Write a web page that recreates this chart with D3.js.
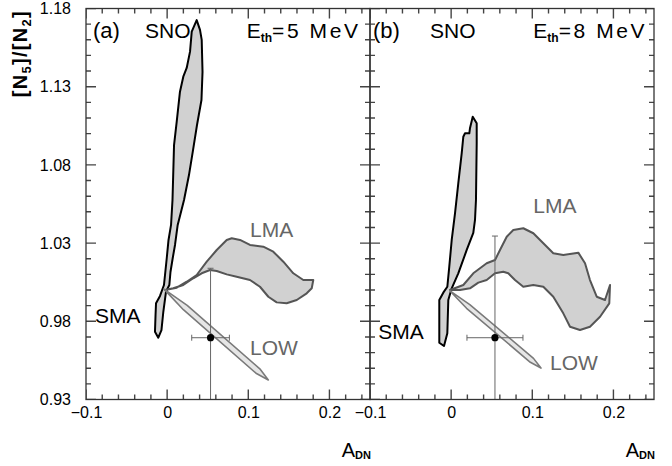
<!DOCTYPE html>
<html><head><meta charset="utf-8">
<script src="https://cdn.jsdelivr.net/npm/d3@7"></script>
<style>
html,body{margin:0;padding:0;background:#fff;}
svg{display:block;font-family:"Liberation Sans",Arial,Helvetica,sans-serif;}
</style></head><body>
<svg id="chart" width="672" height="466"></svg>
<script>
// ---------------- data ----------------
const xDomain = [-0.1, 0.25];
const yDomain = [0.93, 1.18];
const xTickValues = [-0.1, 0, 0.1, 0.2];
const xTickLabels = ["\u22120.1", "0", "0.1", "0.2"];
const yTickValues = [0.93, 0.98, 1.03, 1.08, 1.13, 1.18];
const yTickLabels = ["0.93", "0.98", "1.03", "1.08", "1.13", "1.18"];
const xMinorTicks = [-0.08, -0.06, -0.04, -0.02, 0.02, 0.04, 0.06, 0.08, 0.12, 0.14, 0.16, 0.18, 0.22, 0.24];
const yMinorTicks = [0.94, 0.95, 0.96, 0.97, 0.99, 1.00, 1.01, 1.02, 1.04, 1.05, 1.06, 1.07,
  1.09, 1.10, 1.11, 1.12, 1.14, 1.15, 1.16, 1.17];
const panelNames = ["(a)", "(b)"];
const thresholds = ["5", "8"];

// SMA region, panel (a)
const smaA = [[0.0364,1.1726],[0.0405,1.1663],[0.0426,1.1599],[0.0436,1.1394],[0.0423,1.1215],[0.0368,1.1055],
  [0.0319,1.0895],[0.0269,1.0735],[0.0208,1.0576],[0.0130,1.0416],[0.0097,1.0288],[0.0069,1.0205],[0.0041,1.0115],
  [0.0027,1.0032],[-0.0014,0.9989],[-0.0047,0.9861],[-0.0070,0.9744],[-0.0109,0.9695],[-0.0150,0.9733],
  [-0.0143,0.9840],[-0.0137,0.9915],[-0.0088,0.9962],[-0.0039,1.0032],[-0.0005,1.0203],[0.0017,1.0320],
  [0.0048,1.0416],[0.0066,1.0576],[0.0085,1.0927],[0.0118,1.1076],[0.0158,1.1268],[0.0199,1.1364],
  [0.0241,1.1420],[0.0282,1.1524],[0.0303,1.1652]];
// LMA region, panel (a)
const lmaA = [[-0.0026,1.0000],[0.0118,1.0015],[0.0241,1.0053],[0.0364,1.0096],[0.0488,1.0181],[0.0611,1.0256],
  [0.0734,1.0320],[0.0796,1.0331],[0.0898,1.0320],[0.1021,1.0288],[0.1185,1.0277],[0.1308,1.0245],[0.1432,1.0181],
  [0.1555,1.0107],[0.1678,1.0064],[0.1801,1.0064],[0.1782,1.0011],[0.1720,0.9979],[0.1597,0.9936],[0.1473,0.9915],
  [0.1350,0.9921],[0.1247,0.9957],[0.1144,1.0021],[0.1021,1.0064],[0.0857,1.0085],[0.0734,1.0100],[0.0611,1.0122],
  [0.0528,1.0128],[0.0426,1.0107],[0.0322,1.0075],[0.0199,1.0032],[0.0076,1.0011]];
// LOW region, panel (a)
const lowA = [[-0.0039,1.0006],[0.0247,0.9902],[0.1142,0.9496],[0.1247,0.9425],[0.1095,0.9468],[0.0200,0.9874]];

// SMA region, panel (b)
const smaB = [[0.0266,1.1108],[0.0315,1.1066],[0.0315,1.0938],[0.0306,1.0576],[0.0294,1.0448],[0.0273,1.0365],
  [0.0192,1.0256],[0.0088,1.0107],[0.0007,1.0011],[-0.0035,0.9936],[-0.0047,0.9723],[-0.0088,0.9642],
  [-0.0146,0.9663],[-0.0146,0.9936],[-0.0097,0.9983],[-0.0047,1.0021],[-0.0023,1.0149],[0.0007,1.0320],
  [0.0048,1.0491],[0.0088,1.0682],[0.0130,1.0874],[0.0150,1.0980],[0.0171,1.1002],[0.0224,1.1002],[0.0232,1.1034]];
// LMA region, panel (b)
const lmaB = [[-0.0014,1.0000],[0.0150,1.0032],[0.0273,1.0107],[0.0438,1.0171],[0.0541,1.0192],[0.0602,1.0256],
  [0.0685,1.0341],[0.0766,1.0384],[0.0889,1.0395],[0.1013,1.0363],[0.1136,1.0299],[0.1259,1.0235],[0.1382,1.0224],
  [0.1567,1.0239],[0.1650,1.0171],[0.1711,1.0064],[0.1794,0.9957],[0.1896,0.9936],[0.1958,1.0032],[0.1949,0.9915],
  [0.1835,0.9829],[0.1711,0.9765],[0.1588,0.9744],[0.1465,0.9765],[0.1382,0.9851],[0.1259,0.9957],[0.1136,1.0021],
  [0.1013,1.0032],[0.0889,1.0021],[0.0787,1.0064],[0.0704,1.0107],[0.0643,1.0117],[0.0541,1.0107],[0.0438,1.0064],
  [0.0335,1.0047],[0.0232,1.0011],[0.0109,1.0000]];
// LOW region, panel (b)
const lowB = [[-0.0014,0.9994],[0.0230,0.9907],[0.1015,0.9563],[0.1107,0.9501],[0.0976,0.9538],[0.0190,0.9883]];

// measured point with errors [x, y, xErr, yErr]
const pointA = [0.0535, 0.9695, 0.0232, 0.0444];
const pointB = [0.0540, 0.9695, 0.0345, 0.0650];

// region labels [text, x, y]
const labelsA = [["LMA",0.1021,1.0339],["SMA",-0.0889,0.9789],["LOW",0.1021,0.9585]];
const labelsB = [["LMA",0.1013,1.0492],["SMA",-0.0898,0.9687],["LOW",0.1218,0.9489]];

// ---------------- drawing ----------------
const svg = d3.select("#chart");
svg.append("rect").attr("width",672).attr("height",466).attr("fill","#fff");

const defs = svg.append("defs");
const pat = defs.append("pattern").attr("id","hatch").attr("patternUnits","userSpaceOnUse")
  .attr("width",2).attr("height",2);
pat.append("rect").attr("width",2).attr("height",2).attr("fill","#efefef");
pat.append("rect").attr("width",1).attr("height",1).attr("fill","#b2b2b2");
pat.append("rect").attr("x",1).attr("y",1).attr("width",1).attr("height",1).attr("fill","#b2b2b2");

const topM = 8.5, pw = 284, ph = 391;
const lefts = [86, 370];
const xs = d3.scaleLinear().domain(xDomain).range([0, pw]);
const ys = d3.scaleLinear().domain(yDomain).range([ph, 0]);
const pathGen = d3.line().x(d => xs(d[0])).y(d => ys(d[1])).curve(d3.curveLinearClosed);

const panels = [
  {sma: smaA, lma: lmaA, low: lowA, pt: pointA, labels: labelsA, name: panelNames[0], th: thresholds[0],
   nameX: 7, snoX: 59, eX: 160.7},
  {sma: smaB, lma: lmaB, low: lowB, pt: pointB, labels: labelsB, name: panelNames[1], th: thresholds[1],
   nameX: 3, snoX: 60, eX: 163.3}
];

panels.forEach((p, i) => {
  const g = svg.append("g").attr("transform", `translate(${lefts[i]},${topM})`);
  const cid = "clip" + i;
  defs.append("clipPath").attr("id", cid).append("rect").attr("width", pw).attr("height", ph);

  const labStyle = s => {
    s.select(".domain").remove();
    s.selectAll(".tick line").remove();
    s.selectAll("text").attr("font-size", 16).attr("fill", "#000")
      .attr("font-family", '"Liberation Sans",Arial,sans-serif');
  };
  g.append("g").attr("transform", `translate(0,${ph})`)
    .call(d3.axisBottom(xs).tickValues(xTickValues).tickSize(0).tickPadding(7.5)
      .tickFormat((d, k) => xTickLabels[k]))
    .call(labStyle);
  if (i === 0) {
    g.append("g")
      .call(d3.axisLeft(ys).tickValues(yTickValues).tickSize(0).tickPadding(15)
        .tickFormat((d, k) => yTickLabels[k]))
      .call(labStyle);
  }

  const pg = g.append("g").attr("clip-path", `url(#${cid})`);
  pg.append("path").attr("d", pathGen(p.sma)).attr("fill", "url(#hatch)")
    .attr("stroke", "#000").attr("stroke-width", 2).attr("stroke-linejoin", "round");
  pg.append("path").attr("d", pathGen(p.lma)).attr("fill", "url(#hatch)")
    .attr("stroke", "#555").attr("stroke-width", 2).attr("stroke-linejoin", "round");
  pg.append("path").attr("d", pathGen(p.low)).attr("fill", "#e6e6e6")
    .attr("stroke", "#7a7a7a").attr("stroke-width", 1.6).attr("stroke-linejoin", "round");

  const [px, py, ex, ey] = p.pt;
  const eg = pg.append("g").attr("stroke", "#666").attr("stroke-width", 1);
  eg.append("line").attr("x1", xs(px)).attr("x2", xs(px)).attr("y1", ys(py + ey)).attr("y2", ys(py - ey));
  eg.append("line").attr("x1", xs(px - ex)).attr("x2", xs(px + ex)).attr("y1", ys(py)).attr("y2", ys(py));
  eg.append("line").attr("x1", xs(px) - 3).attr("x2", xs(px) + 3).attr("y1", ys(py + ey)).attr("y2", ys(py + ey));
  eg.append("line").attr("x1", xs(px - ex)).attr("x2", xs(px - ex)).attr("y1", ys(py) - 3).attr("y2", ys(py) + 3);
  eg.append("line").attr("x1", xs(px + ex)).attr("x2", xs(px + ex)).attr("y1", ys(py) - 3).attr("y2", ys(py) + 3);
  pg.append("circle").attr("cx", xs(px)).attr("cy", ys(py)).attr("r", 3.6).attr("fill", "#000");

  // tick marks, drawn inside the panel group (inward on all four sides)
  const tk = pg.append("g").attr("stroke", "#444").attr("stroke-width", 1.4);
  const xAll = xTickValues.map(v => ({v, len: 10})).concat(xMinorTicks.map(v => ({v, len: 5})));
  const yAll = yTickValues.map(v => ({v, len: 10})).concat(yMinorTicks.map(v => ({v, len: 5})));
  xAll.forEach(t => {
    tk.append("line").attr("x1", xs(t.v)).attr("x2", xs(t.v)).attr("y1", ph).attr("y2", ph - t.len);
    tk.append("line").attr("x1", xs(t.v)).attr("x2", xs(t.v)).attr("y1", 0).attr("y2", t.len);
  });
  yAll.forEach(t => {
    tk.append("line").attr("y1", ys(t.v)).attr("y2", ys(t.v)).attr("x1", 0).attr("x2", t.len);
    tk.append("line").attr("y1", ys(t.v)).attr("y2", ys(t.v)).attr("x1", pw).attr("x2", pw - t.len);
  });

  // frame
  g.append("rect").attr("width", pw).attr("height", ph).attr("fill", "none")
    .attr("stroke", "#333").attr("stroke-width", 1.3);

  p.labels.forEach(l => {
    g.append("text").attr("x", xs(l[1])).attr("y", ys(l[2])).text(l[0])
      .attr("font-size", 21).attr("fill", l[0] === "SMA" ? "#000" : "#666");
  });

  g.append("text").attr("x", p.nameX).attr("y", 29.5).attr("font-size", 22).attr("fill", "#000").text(p.name);
  g.append("text").attr("x", p.snoX).attr("y", 29.5).attr("font-size", 21).attr("fill", "#000").text("SNO");
  const et = g.append("text").attr("x", p.eX).attr("y", 29.5).attr("font-size", 21).attr("fill", "#000");
  et.append("tspan").text("E");
  et.append("tspan").attr("dy", 4).attr("font-size", 12).attr("font-weight", "bold").text("th");
  et.append("tspan").attr("dy", -4).attr("letter-spacing", 2.6).text("=" + p.th + " MeV");

  const at = g.append("text").attr("x", pw + 1).attr("y", 457 - topM).attr("text-anchor", "end")
    .attr("font-size", 20).attr("fill", "#000");
  at.append("tspan").text("A");
  at.append("tspan").attr("dy", 2).attr("font-size", 11).attr("font-weight", "bold").text("DN");
});

const ytl = svg.append("text").attr("transform", "translate(27,10) rotate(-90)")
  .attr("text-anchor", "end").attr("font-size", 20).attr("font-weight", "bold")
  .attr("letter-spacing", 1.3).attr("fill", "#000");
ytl.append("tspan").text("[N");
ytl.append("tspan").attr("dy", 4).attr("font-size", 13).text("5");
ytl.append("tspan").attr("dy", -4).text("]/[N");
ytl.append("tspan").attr("dy", 4).attr("font-size", 13).text("2");
ytl.append("tspan").attr("dy", -4).text("]");
</script>
</body></html>
